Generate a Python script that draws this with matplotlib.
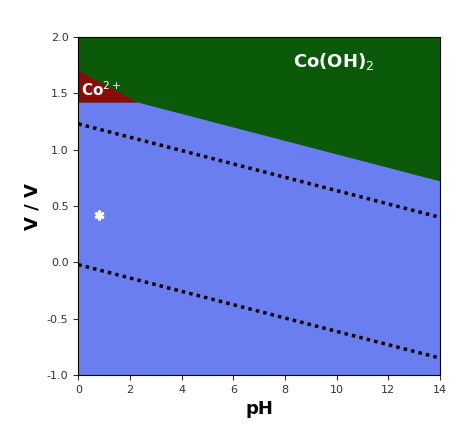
import matplotlib
matplotlib.use("Agg")
import matplotlib.pyplot as plt
import numpy as np

ph_edge = [0, 2.3, 14]
co_top = [1.70, 1.42]          # Co2+ upper edge (x=0, x=2.3)
co_bottom = 1.42
boundary = [1.42, 0.72]        # blue/green at x=2.3 and x=14
dot_upper = [1.23, 0.40]
dot_lower = [-0.02, -0.85]
star = (0.8, 0.42)

fig = plt.figure(figsize=(4.55, 4.32), dpi=100)
ax = fig.add_axes([0.172, 0.132, 0.795, 0.782])
ax.set_xlim(0, 14); ax.set_ylim(-1, 2)
green = "#0a5a0a"; blue = "#6a7ef0"; red = "#8b0a0a"
ax.add_patch(plt.Rectangle((0, -1), 14, 3, color=green, zorder=0))
ax.fill([0, 0, 2.3, 14, 14], [-1, co_bottom, boundary[0], boundary[1], -1], color=blue, zorder=1, lw=0)
ax.fill([0, 0, 2.3], [co_bottom, co_top[0], co_top[1]], color=red, zorder=1, lw=0)
ax.plot([0, 14], dot_upper, ls=(0, (1, 1.2)), color="black", lw=2.5, zorder=2)
ax.plot([0, 14], dot_lower, ls=(0, (1, 1.2)), color="black", lw=2.5, zorder=2)
ax.plot(*star, marker=(6, 2, 0), color="white", ms=7, mew=2, zorder=3)
ax.text(0.1, 1.53, "Co$^{2+}$", color="white", fontsize=11, fontweight="bold", va="center")
ax.text(8.3, 1.78, "Co(OH)$_2$", color="white", fontsize=13, fontweight="bold", va="center")
ax.set_xticks(range(0, 15, 2))
ax.set_yticks([-1, -0.5, 0, 0.5, 1, 1.5, 2])
ax.set_yticklabels(["-1.0", "-0.5", "0.0", "0.5", "1.0", "1.5", "2.0"])
ax.tick_params(labelsize=8, colors="#333333")
ax.set_xlabel("pH", fontsize=13, fontweight="bold")
ax.set_ylabel("V / V", fontsize=13, fontweight="bold")
fig.savefig("out.png")
